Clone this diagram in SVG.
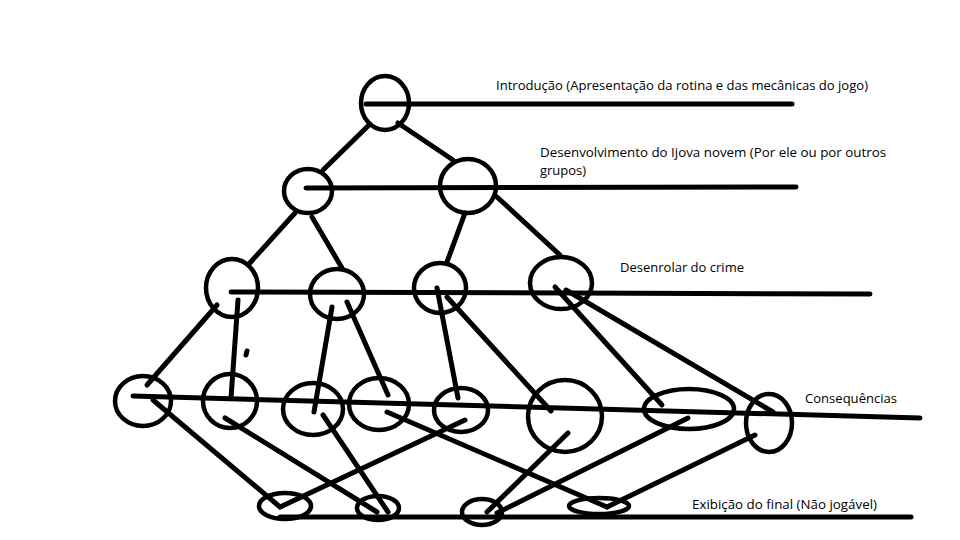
<svg xmlns="http://www.w3.org/2000/svg" width="960" height="540" viewBox="0 0 960 540">
  <style>
    .node { fill: none; stroke: #000; stroke-width: 4.5; }
    .edge { stroke: #000; stroke-width: 5; stroke-linecap: round; fill: none; }
    .level { stroke: #000; stroke-width: 5; stroke-linecap: round; fill: none; }
    .label { font-family: "Open Sans", "Noto Sans", "DejaVu Sans", sans-serif; font-size: 13px; fill: #000; }
  </style>
  <rect width="960" height="540" fill="#fff"/>

  <!-- horizontal stage lines -->
  <g id="levels">
    <line class="level" x1="366" y1="104" x2="792" y2="104"/>
    <line class="level" x1="306" y1="188" x2="796" y2="187"/>
    <line class="level" x1="231" y1="292" x2="870" y2="294"/>
    <line class="level" x1="133" y1="396" x2="920" y2="418"/>
    <line class="level" x1="280" y1="517" x2="911" y2="517"/>
  </g>

  <!-- stage nodes -->
  <g id="n0"><ellipse class="node" cx="385" cy="103" rx="24" ry="27"/></g>
  <g id="n1a"><ellipse class="node" cx="308" cy="191" rx="24" ry="22"/></g>
  <g id="n1b"><ellipse class="node" cx="468" cy="186" rx="28" ry="27"/></g>
  <g id="n2a"><ellipse class="node" cx="232" cy="288" rx="26" ry="29"/></g>
  <g id="n2b"><ellipse class="node" cx="337" cy="294" rx="27" ry="25"/></g>
  <g id="n2c"><ellipse class="node" cx="440" cy="288" rx="26" ry="25"/></g>
  <g id="n2d"><ellipse class="node" cx="561" cy="283" rx="31" ry="26"/></g>
  <g id="n3a"><ellipse class="node" cx="143" cy="401" rx="28" ry="25"/></g>
  <g id="n3b"><ellipse class="node" cx="230" cy="401" rx="27" ry="27"/></g>
  <g id="n3c"><ellipse class="node" cx="313" cy="409" rx="30" ry="26"/></g>
  <g id="n3d"><ellipse class="node" cx="379" cy="404" rx="30" ry="26"/></g>
  <g id="n3e"><ellipse class="node" cx="461" cy="410" rx="27" ry="22"/></g>
  <g id="n3f"><ellipse class="node" cx="565" cy="416" rx="37" ry="36"/></g>
  <g id="n3g"><ellipse class="node" cx="689" cy="409" rx="45" ry="20"/></g>
  <g id="n3h"><ellipse class="node" cx="769" cy="423" rx="23" ry="29"/></g>
  <g id="n4a"><ellipse class="node" cx="285" cy="506" rx="26" ry="13"/></g>
  <g id="n4b"><ellipse class="node" cx="378" cy="508" rx="21" ry="12"/></g>
  <g id="n4c"><ellipse class="node" cx="482" cy="512" rx="20" ry="13"/></g>
  <g id="n4d"><ellipse class="node" cx="599" cy="506" rx="30" ry="8"/></g>

  <!-- connectors -->
  <g id="connectors">
    <line class="edge" x1="368" y1="126" x2="323" y2="170"/>
    <line class="edge" x1="398" y1="123" x2="453" y2="160"/>
    <line class="edge" x1="295" y1="213" x2="248" y2="265"/>
    <line class="edge" x1="312" y1="217" x2="342" y2="268"/>
    <line class="edge" x1="465" y1="213" x2="447" y2="262"/>
    <line class="edge" x1="497" y1="197" x2="560" y2="255"/>
    <line class="edge" x1="217" y1="305" x2="147" y2="385"/>
    <line class="edge" x1="238" y1="300" x2="231" y2="398"/>
    <line class="edge" x1="332" y1="307" x2="314" y2="412"/>
    <line class="edge" x1="347" y1="302" x2="388" y2="395"/>
    <line class="edge" x1="437" y1="288" x2="458" y2="398"/>
    <line class="edge" x1="447" y1="297" x2="551" y2="411"/>
    <line class="edge" x1="555" y1="287" x2="662" y2="405"/>
    <line class="edge" x1="566" y1="290" x2="773" y2="412"/>
    <polyline class="edge" points="153,400 280,507 465,420"/>
    <line class="edge" x1="225" y1="418" x2="377" y2="512"/>
    <line class="edge" x1="323" y1="415" x2="388" y2="512"/>
    <line class="edge" x1="387" y1="412" x2="607" y2="507"/>
    <line class="edge" x1="568" y1="433" x2="487" y2="512"/>
    <line class="edge" x1="688" y1="418" x2="497" y2="513"/>
    <line class="edge" x1="755" y1="435" x2="607" y2="507"/>
    <line class="edge" x1="247" y1="351" x2="246" y2="355"/>
  </g>

  <!-- stage labels -->
  <g id="labels">
    <text class="label" x="496" y="90" textLength="372" lengthAdjust="spacingAndGlyphs">Introdução (Apresentação da rotina e das mecânicas do jogo)</text>
    <text class="label" x="540" y="157" textLength="346" lengthAdjust="spacingAndGlyphs">Desenvolvimento do Ijova novem (Por ele ou por outros</text>
    <text class="label" x="540" y="175">grupos)</text>
    <text class="label" x="620" y="272" textLength="124" lengthAdjust="spacingAndGlyphs">Desenrolar do crime</text>
    <text class="label" x="805" y="403" textLength="92" lengthAdjust="spacingAndGlyphs">Consequências</text>
    <text class="label" x="692" y="509" textLength="185" lengthAdjust="spacingAndGlyphs">Exibição do final (Não jogável)</text>
  </g>
</svg>
